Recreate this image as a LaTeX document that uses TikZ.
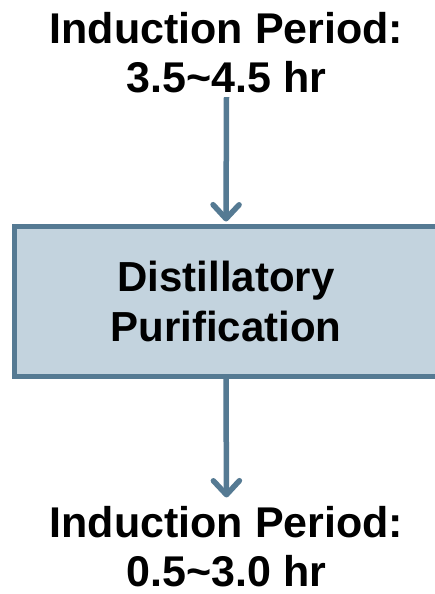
\documentclass[tikz,border=0pt]{standalone}
\usepackage{fontspec}
\setmainfont{Liberation Sans}
\usetikzlibrary{arrows.meta}
\definecolor{steelline}{HTML}{557A93}
\definecolor{steelfill}{HTML}{C3D3DE}
\tikzset{
  label text/.style={font=\bfseries\fontsize{43}{49}\selectfont, align=center, inner sep=0pt, text=black},
  processbox/.style={draw=steelline, fill=steelfill, line width=5pt, minimum width=423pt, minimum height=150pt, inner sep=0pt,
    font=\bfseries\fontsize{42}{50}\selectfont, align=center},
  flowarrow/.style={draw=steelline, line width=5.5pt, -{Straight Barb[length=14pt, width=26pt, round]}}
}
\begin{document}
\begin{tikzpicture}[x=1pt, y=-1pt]
  \useasboundingbox (0,0) rectangle (434,594);
  % labels above and below the process step
  \node[label text] (before) at (226.5,52.2) {Induction Period:\\3.5\char`~4.5 hr};
  \node[processbox] (purify) at (226,301.5) {Distillatory\\Purification};
  \node[label text] (after) at (226.5,547.0) {Induction Period:\\0.5\char`~3.0 hr};
  % connectors
  \draw[flowarrow, shorten >=2.5pt] ([yshift=-4.5pt]before.south) -- (purify.north);
  \draw[flowarrow, shorten >=9pt] (purify.south) -- (after.north);
\end{tikzpicture}
\end{document}
